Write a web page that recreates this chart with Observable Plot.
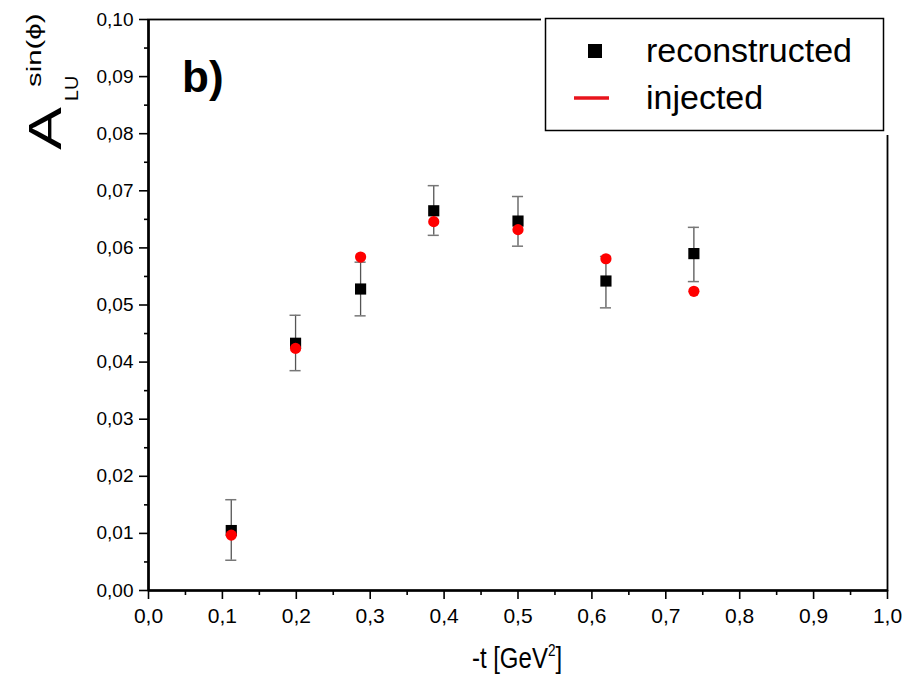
<!DOCTYPE html>
<html><head><meta charset="utf-8">
<script src="https://cdn.jsdelivr.net/npm/d3@7"></script>
<script src="https://cdn.jsdelivr.net/npm/@observablehq/plot@0.6"></script>
<style>body{margin:0;background:#fff;} svg{display:block;}</style>
</head><body><div id="chart"></div>
<script>
// -t values [GeV^2]
const tValues = [0.112, 0.199, 0.287, 0.386, 0.500, 0.619, 0.738];
// reconstructed asymmetry and its error-bar limits
const reconstructed = [0.0105, 0.0433, 0.0528, 0.0665, 0.0647, 0.0542, 0.0590];
const errLow  = [0.0053, 0.0385, 0.0481, 0.0622, 0.0603, 0.0495, 0.0541];
const errHigh = [0.0159, 0.0482, 0.0575, 0.0709, 0.0690, 0.0585, 0.0636];
// injected asymmetry
const injected = [0.0097, 0.0424, 0.0584, 0.0646, 0.0632, 0.0581, 0.0524];
// ticks
const xTicks = [0, 0.1, 0.2, 0.3, 0.4, 0.5, 0.6, 0.7, 0.8, 0.9, 1.0];
const xMinor = [0.05, 0.15, 0.25, 0.35, 0.45, 0.55, 0.65, 0.75, 0.85, 0.95];
const yTicks = [0, 0.01, 0.02, 0.03, 0.04, 0.05, 0.06, 0.07, 0.08, 0.09, 0.10];
const yMinor = [0.005, 0.015, 0.025, 0.035, 0.045, 0.055, 0.065, 0.075, 0.085, 0.095];
const legendLabels = ["reconstructed", "injected"];

const data = tValues.map((t, i) => ({t, rec: reconstructed[i], lo: errLow[i], hi: errHigh[i], inj: injected[i]}));
const capHalf = 0.0075;
const FONT = "'Liberation Sans', Arial, sans-serif";

const svg = Plot.plot({
  width: 908, height: 677,
  marginLeft: 148, marginRight: 21, marginTop: 19, marginBottom: 87,
  style: {fontFamily: FONT, background: "white", color: "black"},
  x: {domain: [0, 1], label: null},
  y: {domain: [0, 0.1], label: null},
  marks: [
    Plot.axisX(xTicks, {tickSize: 9, tickPadding: 9, fontSize: 21, strokeWidth: 1.6, tickFormat: d => d.toFixed(1).replace(".", ","), label: null}),
    Plot.axisX(xMinor, {tickSize: 5, strokeWidth: 1.6, tickFormat: () => "", label: null}),
    Plot.axisY(yTicks, {tickSize: 9, tickPadding: 6, fontSize: 19, strokeWidth: 1.6, tickFormat: d => d.toFixed(2).replace(".", ","), label: null}),
    Plot.axisY(yMinor, {tickSize: 4, strokeWidth: 1.6, tickFormat: () => "", label: null}),
    Plot.frame({stroke: "black", strokeWidth: 1.8}),
    Plot.ruleY([0], {stroke: "black", strokeWidth: 2.6}),
    Plot.ruleX([0], {stroke: "black", strokeWidth: 2.6}),
    Plot.ruleX(data, {x: "t", y1: "lo", y2: "hi", stroke: "#555", strokeWidth: 1.3}),
    Plot.ruleY(data, {y: "lo", x1: d => d.t - capHalf, x2: d => d.t + capHalf, stroke: "#777", strokeWidth: 1.5}),
    Plot.ruleY(data, {y: "hi", x1: d => d.t - capHalf, x2: d => d.t + capHalf, stroke: "#777", strokeWidth: 1.5}),
    Plot.dot(data, {x: "t", y: "rec", symbol: "square", r: 6.3, fill: "black", stroke: null}),
    Plot.dot(data, {x: "t", y: "inj", r: 5.6, fill: "red", stroke: null})
  ]
});
document.getElementById("chart").appendChild(svg);

const s = d3.select(svg);
// Legend (covers top-right corner of frame)
s.append("rect").attr("x", 541).attr("y", 8).attr("width", 352).attr("height", 127).attr("fill", "white");
s.append("rect").attr("x", 545.5).attr("y", 18.5).attr("width", 338).attr("height", 112)
  .attr("fill", "white").attr("stroke", "black").attr("stroke-width", 1.5);
s.append("rect").attr("x", 588).attr("y", 44).attr("width", 14).attr("height", 14).attr("fill", "black");
s.append("line").attr("x1", 574).attr("x2", 609).attr("y1", 98).attr("y2", 98).attr("stroke", "#e8141c").attr("stroke-width", 3.5);
const txt = () => s.append("text").attr("text-anchor", "start").attr("font-family", FONT).attr("fill", "black");
txt().attr("x", 646).attr("y", 62).attr("font-size", 34).text(legendLabels[0]);
txt().attr("x", 646).attr("y", 109).attr("font-size", 34).text(legendLabels[1]);

// panel label
txt().attr("x", 182).attr("y", 92).attr("font-size", 44).attr("font-weight", "bold").text("b)");

// y-axis label A_LU^{sin(phi)}
txt().attr("transform", "translate(61,150) rotate(-90) scale(1.4,1)").attr("font-size", 46).text("A");
txt().attr("transform", "translate(78,101) rotate(-90) scale(1.1,1)").attr("font-size", 18).text("LU");
txt().attr("transform", "translate(41,87) rotate(-90) scale(1.4,1)").attr("font-size", 21).text("sin(ϕ)");

// x-axis label
const xl = s.append("text").attr("transform", "translate(517,668) scale(0.8,1)").attr("text-anchor", "middle").attr("font-size", 30).attr("font-family", FONT);
xl.append("tspan").text("-t [GeV");
xl.append("tspan").attr("dy", -12).attr("font-size", 17).text("2");
xl.append("tspan").attr("dy", 12).text("]");
</script></body></html>
